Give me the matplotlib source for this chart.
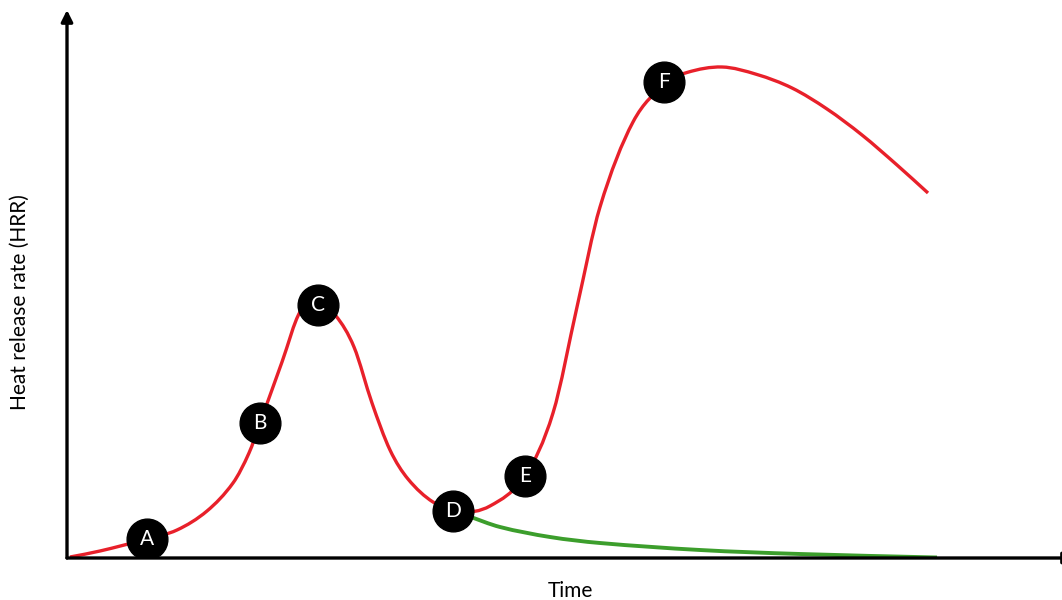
import matplotlib.pyplot as plt
from matplotlib.path import Path
from matplotlib.patches import PathPatch
from matplotlib import font_manager

# red HRR curve (time, heat release rate)
hrr_time = [0.3, 3.3, 8.0, 11.0, 14.0, 16.6, 18.2, 19.3, 21.5, 23.3, 25.1, 26.9, 28.7,
            30.5, 32.3, 34.1, 36.6, 39.3, 42.3, 45.8, 48.6, 51.0, 53.3, 56.6, 59.8,
            62.0, 65.5, 69.0, 72.5, 76.0, 79.5, 83.0, 86.1]
hrr_value = [0.2, 1.4, 3.8, 5.6, 9.4, 15.0, 21.0, 27.0, 39.2, 49.2, 51.2, 48.4, 42.2,
             31.0, 21.6, 15.8, 11.2, 9.2, 10.4, 16.4, 29.0, 50.2, 70.2, 87.2, 94.8,
             97.1, 98.2, 96.7, 94.0, 89.8, 84.6, 78.6, 73.0]

# green decay branch after D
decay_time = [40.1, 43.3, 48.3, 53.3, 63.3, 73.3, 87.0]
decay_value = [8.4, 6.2, 4.2, 3.0, 1.6, 0.8, 0.1]

# labelled stages
stage_labels = ['A', 'B', 'C', 'D', 'E', 'F']
stage_time = [8.0, 19.3, 25.1, 38.6, 45.8, 59.7]
stage_value = [3.8, 27.0, 50.6, 9.4, 16.4, 95.2]

names = {f.name for f in font_manager.fontManager.ttflist}
family = [f for f in ['Lato', 'Open Sans', 'Noto Sans'] if f in names] + ['DejaVu Sans']
plt.rcParams['font.family'] = family


def smooth_path(xs, ys):
    # bezier segments through the read points, slopes from neighbouring points
    n = len(xs)
    slopes = []
    for i in range(n):
        a = max(i - 1, 0)
        b = min(i + 1, n - 1)
        slopes.append((ys[b] - ys[a]) / (xs[b] - xs[a]))
    verts = [(xs[0], ys[0])]
    codes = [Path.MOVETO]
    for i in range(n - 1):
        h = (xs[i + 1] - xs[i]) / 3
        verts += [(xs[i] + h, ys[i] + slopes[i] * h),
                  (xs[i + 1] - h, ys[i + 1] - slopes[i + 1] * h),
                  (xs[i + 1], ys[i + 1])]
        codes += [Path.CURVE4] * 3
    return Path(verts, codes)


fig = plt.figure(figsize=(10.62, 6), dpi=100)
ax = fig.add_axes([67 / 1062, 42 / 600, (1075 - 67) / 1062, 548 / 600])
ax.set_xlim(0, 100.8)
ax.set_ylim(0, 109.6)

ax.add_patch(PathPatch(smooth_path(hrr_time, hrr_value), fill=False,
                       edgecolor='#e8202a', lw=2.4, capstyle='butt', zorder=2))
ax.add_patch(PathPatch(smooth_path(decay_time, decay_value), fill=False,
                       edgecolor='#3c9e2c', lw=2.8, capstyle='butt', zorder=3))

ax.scatter(stage_time, stage_value, s=860, color='black', zorder=4)
for lab, t, v in zip(stage_labels, stage_time, stage_value):
    ax.text(t, v, lab, color='white', fontsize=15, ha='center', va='center', zorder=5)

# axes drawn as arrows
for s in ax.spines.values():
    s.set_visible(False)
ax.set_xticks([])
ax.set_yticks([])
arrow = dict(arrowstyle='-|>', lw=2.4, color='black', mutation_scale=17, shrinkA=0, shrinkB=0)
ax.annotate('', xy=(0, 1), xytext=(0, 0), xycoords='axes fraction', arrowprops=arrow,
            annotation_clip=False)
ax.annotate('', xy=(1, 0), xytext=(0, 0), xycoords='axes fraction', arrowprops=arrow,
            annotation_clip=False)

fig.text(570 / 1062, 1 - 591 / 600, 'Time', fontsize=15, ha='center', va='center')
fig.text(20 / 1062, 1 - 302 / 600, 'Heat release rate (HRR)', fontsize=15,
         ha='center', va='center', rotation=90)

fig.savefig('out.png', dpi=100)
